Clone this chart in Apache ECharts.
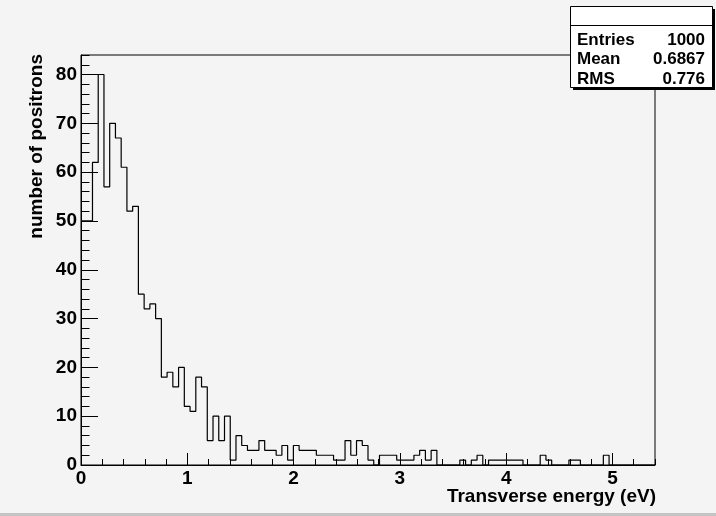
<!DOCTYPE html>
<html><head><meta charset="utf-8">
<script src="https://cdn.jsdelivr.net/npm/echarts@6/dist/echarts.min.js"></script>
<style>html,body{margin:0;padding:0;background:#f4f4f4}#c{width:716px;height:516px}</style>
</head><body><div id="c"></div>
<script>
// histogram bin contents (100 bins on [0, 5.4])
const counts = [
  50,50,62,80,57,70,67,61,52,53,
  35,32,33,30,18,19,16,20,12,11,
  18,16,5,10,5,10,1,6,4,3,
  3,5,3,3,2,4,1,4,3,3,
  3,2,2,2,1,1,5,2,5,4,
  1,0,2,2,2,1,1,1,2,3,
  1,3,0,0,0,0,1,0,1,2,
  0,1,1,1,1,1,1,0,0,0,
  2,1,0,0,0,1,1,0,0,0,
  0,2,0,0,0,0,0,0,0,0
];
const xRange = [0, 5.4];
const yRange = [0, 84];
const xTitle = 'Transverse energy (eV)';
const yTitle = 'number of positrons';
const statsNames = ['Entries', 'Mean', 'RMS'];
const statsValues = ['1000', '0.6867', '0.776'];

const F = '"Liberation Sans", Arial, Helvetica, sans-serif';
const nb = counts.length;
const bw = (xRange[1] - xRange[0]) / nb;
const pts = counts.map((v, i) => [xRange[0] + i * bw, v]);
pts.push([xRange[1], counts[nb - 1]]);

const black = '#000';
const lab = {color: black, fontSize: 19, fontWeight: 'bold', fontFamily: F};

const chart = echarts.init(document.getElementById('c'), null, {renderer: 'canvas'});

const statsGraphics = [
  {type: 'rect', shape: {x: 573, y: 9, width: 142, height: 81}, style: {fill: black}, z: 100},
  {type: 'rect', shape: {x: 570.5, y: 6.5, width: 142, height: 81}, style: {fill: '#fff', stroke: black, lineWidth: 1}, z: 101},
  {type: 'line', shape: {x1: 570.5, y1: 25.5, x2: 712.5, y2: 25.5}, style: {stroke: black, lineWidth: 1}, z: 102}
];
statsNames.forEach((n, i) => {
  statsGraphics.push({type: 'text', x: 577, y: 40 + i * 19.5, z: 103,
    style: {text: n, fill: black, font: 'bold 17px ' + F, textAlign: 'left', textVerticalAlign: 'middle'}});
  statsGraphics.push({type: 'text', x: 705, y: 40 + i * 19.5, z: 103,
    style: {text: statsValues[i], fill: black, font: 'bold 17px ' + F, textAlign: 'right', textVerticalAlign: 'middle'}});
});

chart.setOption({
  backgroundColor: '#f4f4f4',
  animation: false,
  grid: {left: 81, right: 61, top: 55, bottom: 51, show: true, borderColor: black, borderWidth: 1, backgroundColor: 'transparent'},
  xAxis: [
    {type: 'value', min: xRange[0], max: xRange[1], interval: 1, position: 'bottom',
     axisLine: {show: true, onZero: false, lineStyle: {color: black, width: 1}},
     axisTick: {show: true, inside: true, length: 12, lineStyle: {color: black, width: 1}},
     axisLabel: Object.assign({showMaxLabel: false, margin: 4}, lab),
     splitLine: {show: false}},
    {type: 'value', min: xRange[0], max: xRange[1], interval: 0.2, position: 'bottom',
     axisLine: {show: false, onZero: false},
     axisTick: {show: true, inside: true, length: 6, lineStyle: {color: black, width: 1}},
     axisLabel: {show: false}, splitLine: {show: false}}
  ],
  yAxis: [
    {type: 'value', min: yRange[0], max: yRange[1], interval: 10, position: 'left',
     axisLine: {show: true, onZero: false, lineStyle: {color: black, width: 1}},
     axisTick: {show: true, inside: true, length: 17, lineStyle: {color: black, width: 1}},
     axisLabel: Object.assign({showMaxLabel: false, margin: 4}, lab),
     splitLine: {show: false}},
    {type: 'value', min: yRange[0], max: yRange[1], interval: 2, position: 'left',
     axisLine: {show: false, onZero: false},
     axisTick: {show: true, inside: true, length: 8.5, lineStyle: {color: black, width: 1}},
     axisLabel: {show: false}, splitLine: {show: false}}
  ],
  series: [{
    type: 'line', xAxisIndex: 0, yAxisIndex: 0, data: pts, step: 'end',
    showSymbol: false, symbol: 'none', silent: true, clip: false,
    lineStyle: {color: black, width: 1.2}
  }],
  graphic: [
    {type: 'rect', shape: {x: 0, y: 513, width: 716, height: 3}, style: {fill: '#c4c4c4'}, z: 50},
    {type: 'text', x: 656, y: 497, z: 60,
     style: {text: xTitle, fill: black, font: 'bold 19px ' + F, textAlign: 'right', textVerticalAlign: 'middle'}},
    {type: 'text', x: 37, y: 54, rotation: Math.PI / 2, z: 60,
     style: {text: yTitle, fill: black, font: 'bold 19px ' + F, textAlign: 'right', textVerticalAlign: 'middle'}}
  ].concat(statsGraphics)
});
</script></body></html>
